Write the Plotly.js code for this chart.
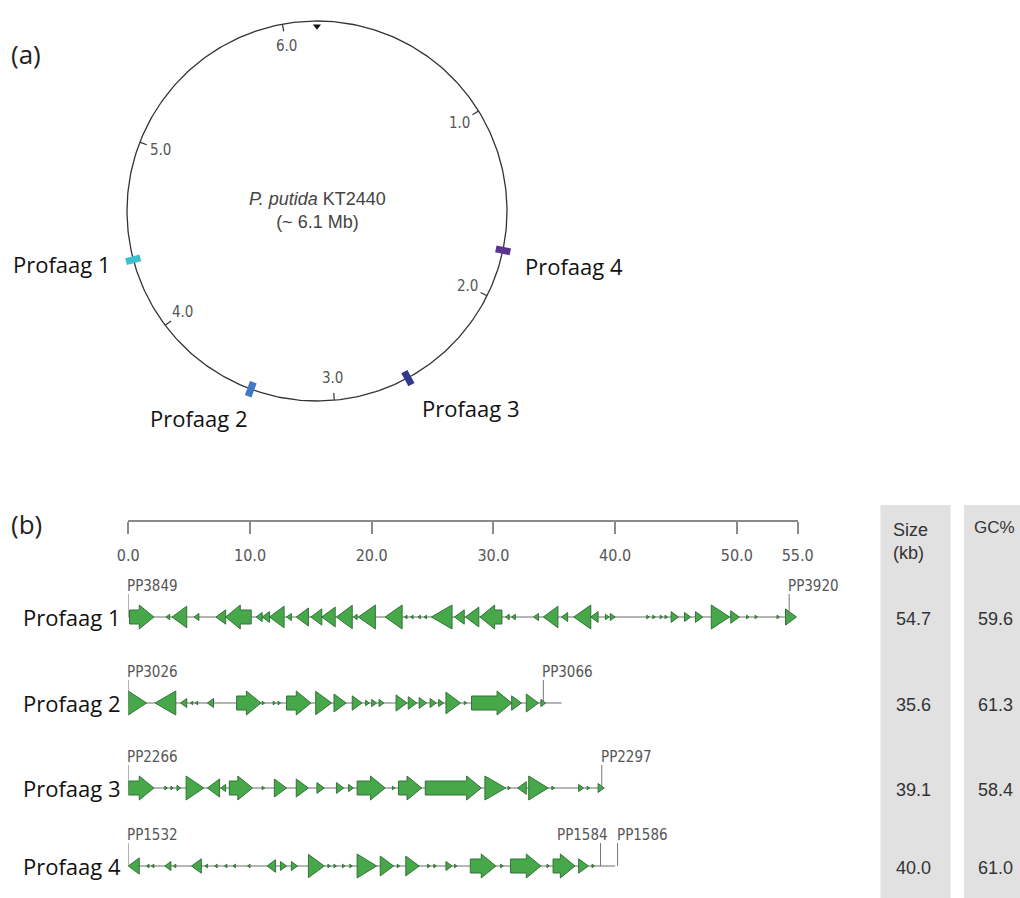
<!DOCTYPE html>
<html>
<head>
<meta charset="utf-8">
<script src="https://cdn.plot.ly/plotly-3.0.1.min.js"></script>
<style>html,body{margin:0;padding:0;background:#fff;}#chart{width:1020px;height:898px;}</style>
</head>
<body>
<div id="chart"></div>
<script>
// ---------------- DATA ----------------
const GENOME_MB = 6.18;
const GENOME_TICKS_MB = [1, 2, 3, 4, 5, 6];
const PROPHAGE_NAMES = ['Profaag 1', 'Profaag 2', 'Profaag 3', 'Profaag 4'];
const PROPHAGE_POS_MB = [4.38, 3.44, 2.60, 1.75];
const PROPHAGE_SIZE_KB = [54.7, 35.6, 39.1, 40.0];
const PROPHAGE_GC = [59.6, 61.3, 58.4, 61.0];
const SCALE_TICKS_KB = [0, 10, 20, 30, 40, 50, 55];

// genes: [start kb, end kb, strand]
const GENES_P1 = [
  [0.1,2.1,1],[3.1,3.4,-1],[3.6,4.8,-1],[5.4,5.8,-1],[7.2,8.0,-1],[8.0,10.1,-1],
  [10.5,11.0,-1],[11.0,11.6,-1],[11.6,12.8,-1],[13.0,13.4,-1],[13.8,14.8,-1],
  [15.0,15.9,-1],[15.9,17.0,-1],[17.1,18.4,-1],[18.5,18.8,-1],[18.9,20.3,-1],
  [21.1,22.5,-1],[22.7,22.9,-1],[23.2,23.4,-1],[23.8,24.0,-1],[24.3,24.5,-1],
  [24.9,26.6,-1],[26.8,27.6,-1],[27.7,28.8,-1],[28.9,30.7,-1],[31.0,31.3,-1],
  [31.5,31.8,-1],[33.3,33.7,-1],[34.1,35.3,-1],[35.6,36.1,-1],[36.6,38.0,-1],
  [38.0,38.6,-1],[39.2,39.5,1],[39.6,40.0,1],[42.6,42.8,1],[43.1,43.3,1],
  [43.7,43.9,1],[44.1,44.3,1],[44.6,45.2,1],[45.7,46.2,1],[46.6,47.2,1],
  [47.9,49.4,1],[49.5,50.2,1],[50.8,51.0,1],[51.5,51.7,1],[53.3,53.5,1],[54.0,54.9,1]
];
const GENES_P2 = [
  [0.0,1.5,1],[2.2,3.9,-1],[4.3,4.8,-1],[5.1,5.3,-1],[5.5,5.7,-1],[6.5,7.0,-1],
  [8.9,10.9,1],[11.0,11.2,1],[11.9,12.1,1],[12.3,12.5,1],[13.0,15.0,1],[15.4,16.7,1],
  [16.9,17.9,1],[18.4,19.2,1],[19.5,19.8,1],[20.0,20.4,1],[20.6,21.0,1],[22.0,22.9,1],
  [23.0,23.7,1],[23.9,24.5,1],[24.8,25.3,1],[25.5,25.9,1],[26.1,27.3,1],[27.6,27.8,1],
  [28.2,31.5,1],[31.5,32.3,1],[32.7,33.7,1],[33.9,34.3,1]
];
const GENES_P3 = [
  [0.0,2.1,1],[3.0,3.2,1],[3.5,3.7,1],[4.0,4.3,1],[4.75,6.2,1],[6.5,7.5,-1],
  [7.6,8.0,-1],[8.3,10.2,1],[11.0,11.2,1],[12.0,13.0,1],[13.8,14.8,1],[15.5,16.1,1],
  [17.1,17.7,1],[18.1,18.5,1],[18.8,21.1,1],[21.7,21.9,1],[22.2,24.1,1],[24.4,29.0,1],
  [29.3,31.0,1],[31.2,31.4,1],[32.0,32.7,-1],[32.9,34.5,1],[34.8,35.0,1],[37.0,37.4,1],
  [37.7,37.9,1],[38.6,39.1,1]
];
const GENES_P4 = [
  [0.0,0.9,-1],[1.5,1.7,-1],[1.9,2.1,-1],[3.0,3.5,-1],[3.7,3.9,-1],[5.2,6.0,-1],
  [6.3,6.5,-1],[7.1,7.3,-1],[7.9,8.1,-1],[8.6,8.8,-1],[9.8,10.0,-1],[11.4,12.1,-1],
  [12.5,13.0,1],[13.4,13.9,1],[14.8,16.1,1],[16.4,16.6,1],[16.9,17.1,1],[17.6,17.8,1],
  [18.2,18.4,1],[18.8,20.4,1],[20.7,21.8,1],[22.1,22.3,1],[22.8,23.9,1],[24.6,24.8,1],
  [25.1,25.3,1],[26.1,26.6,1],[26.8,27.0,1],[28.1,30.2,1],[30.6,30.8,1],[31.4,33.9,1],
  [34.4,34.6,1],[34.9,36.7,1],[37.0,37.8,1],[38.1,38.3,1]
];
const GENE_SETS = [GENES_P1, GENES_P2, GENES_P3, GENES_P4];

// locus tags: [tag, position kb]
const TAGS_P1 = [['PP3849', 0.0], ['PP3920', 54.3]];
const TAGS_P2 = [['PP3026', 0.0], ['PP3066', 34.1]];
const TAGS_P3 = [['PP2266', 0.0], ['PP2297', 38.9]];
const TAGS_P4 = [['PP1532', 0.0], ['PP1584', 38.8], ['PP1586', 40.2]];
const TAG_SETS = [TAGS_P1, TAGS_P2, TAGS_P3, TAGS_P4];

// ---------------- LAYOUT / STYLE ----------------
const W = 1020, H = 898;
const ROW_Y = [617, 703, 788, 866];          // px rows of tracks
const RIGHT_ALIGNED_TAGS = ['PP1584'];
const PROPHAGE_COLORS = ['#3cc0d0', '#3f78c4', '#34388c', '#5b3390'];
const GENE_FILL = '#47a84a', GENE_LINE = '#33733a';
const HEAD_HALF = 12, BODY_HALF = 7, TRI_SLOPE = 9, TRI_MAX_KB = 1.75, HEAD_KB = 1.2;
const NARROW = 'Liberation Sans Narrow, Arial Narrow, DejaVu Sans Condensed, sans-serif';
const SANS = 'Liberation Sans, Arial, sans-serif';
const LABEL = 'Open Sans, Noto Sans, sans-serif';

// circle geometry (px)
const CX = 317, CY = 211, R = 190, RANGE = 1.1;

const px2x = p => p / W;
const py2y = p => 1 - p / H;

const traces = [];
const annotations = [];
const shapes = [];

// ---------- panel (a): circular genome ----------
const circX = [], circY = [];
for (let i = 0; i <= 360; i++) {
  const t = i * Math.PI / 180;
  circX.push(Math.sin(t)); circY.push(Math.cos(t));
}
traces.push({type:'scatter', mode:'lines', x:circX, y:circY, xaxis:'x2', yaxis:'y2',
  line:{color:'#333', width:1.3}, hoverinfo:'skip'});

const ang = mb => mb / GENOME_MB * 2 * Math.PI;
const tx = [], ty = [];
GENOME_TICKS_MB.forEach(mb => {
  const a = ang(mb);
  tx.push(Math.sin(a), Math.sin(a) * 0.962, null);
  ty.push(Math.cos(a), Math.cos(a) * 0.962, null);
  annotations.push({xref:'x2', yref:'y2', x:Math.sin(a)*0.885, y:Math.cos(a)*0.885,
    text:mb.toFixed(1), showarrow:false, font:{family:NARROW, size:15, color:'#555'}});
});
traces.push({type:'scatter', mode:'lines', x:tx, y:ty, xaxis:'x2', yaxis:'y2',
  line:{color:'#333', width:1.2}, hoverinfo:'skip'});
// origin marker
traces.push({type:'scatter', mode:'markers', x:[0], y:[0.972], xaxis:'x2', yaxis:'y2',
  marker:{symbol:'triangle-down', size:7, color:'#111'}, hoverinfo:'skip'});

PROPHAGE_POS_MB.forEach((mb, i) => {
  const a = ang(mb);
  traces.push({type:'scatter', mode:'lines', xaxis:'x2', yaxis:'y2',
    x:[Math.sin(a)*0.962, Math.sin(a)*1.04], y:[Math.cos(a)*0.962, Math.cos(a)*1.04],
    line:{color:PROPHAGE_COLORS[i], width:7}, hoverinfo:'skip'});
});

annotations.push({xref:'x2', yref:'y2', x:0, y:0.005, showarrow:false, align:'center',
  text:'<i>P. putida</i> KT2440<br>(~ 6.1 Mb)', font:{family:SANS, size:18, color:'#444'}});

// prophage labels around circle (px centers)
const CIRC_LABEL_PX = [[61.5, 264], [199, 418], [471, 408], [574, 266]];
PROPHAGE_NAMES.forEach((n, i) => {
  annotations.push({xref:'paper', yref:'paper', x:px2x(CIRC_LABEL_PX[i][0]), y:py2y(CIRC_LABEL_PX[i][1]),
    text:n, showarrow:false, xanchor:'center', yanchor:'middle', font:{family:LABEL, size:22, color:'#111'}});
});
annotations.push({xref:'paper', yref:'paper', x:px2x(9), y:py2y(54), text:'(a)', showarrow:false,
  xanchor:'left', yanchor:'middle', font:{family:LABEL, size:26, color:'#222'}});
annotations.push({xref:'paper', yref:'paper', x:px2x(9), y:py2y(524), text:'(b)', showarrow:false,
  xanchor:'left', yanchor:'middle', font:{family:LABEL, size:26, color:'#222'}});

// ---------- panel (b): gene maps ----------
function genePoly(s, e, strand, yc) {
  const len = e - s;
  let p;
  if (len <= TRI_MAX_KB) {
    const hh = Math.min(HEAD_HALF, TRI_SLOPE * len);
    p = strand > 0 ? [[s, yc-hh],[e, yc],[s, yc+hh]] : [[e, yc-hh],[s, yc],[e, yc+hh]];
  } else if (strand > 0) {
    const b = e - HEAD_KB;
    p = [[s,yc-BODY_HALF],[b,yc-BODY_HALF],[b,yc-HEAD_HALF],[e,yc],[b,yc+HEAD_HALF],[b,yc+BODY_HALF],[s,yc+BODY_HALF]];
  } else {
    const b = s + HEAD_KB;
    p = [[e,yc-BODY_HALF],[b,yc-BODY_HALF],[b,yc-HEAD_HALF],[s,yc],[b,yc+HEAD_HALF],[b,yc+BODY_HALF],[e,yc+BODY_HALF]];
  }
  p.push(p[0]);
  return p;
}

GENE_SETS.forEach((genes, r) => {
  const yc = ROW_Y[r];
  // backbone
  traces.push({type:'scatter', mode:'lines', x:[0, PROPHAGE_SIZE_KB[r]], y:[yc, yc],
    line:{color:'#6e6e6e', width:1.2}, hoverinfo:'skip'});
  const gx = [], gy = [];
  genes.forEach(g => {
    genePoly(g[0], g[1], g[2], yc).forEach(pt => { gx.push(pt[0]); gy.push(pt[1]); });
    gx.push(null); gy.push(null);
  });
  traces.push({type:'scatter', mode:'lines', x:gx, y:gy, fill:'toself', fillcolor:GENE_FILL,
    line:{color:GENE_LINE, width:1}, hoverinfo:'skip', connectgaps:false});
  // locus tags
  const lx = [], ly = [];
  TAG_SETS[r].forEach(t => {
    lx.push(t[1], t[1], null); ly.push(yc, yc - 23, null);
    const right = RIGHT_ALIGNED_TAGS.includes(t[0]);
    annotations.push({xref:'x', yref:'y', x:t[1], y:yc - 31, text:t[0], showarrow:false,
      xanchor: right ? 'right' : 'left', xshift: right ? 9 : -3, yanchor:'middle',
      font:{family:NARROW, size:15, color:'#555'}});
  });
  traces.push({type:'scatter', mode:'lines', x:lx, y:ly, line:{color:'#777', width:1}, hoverinfo:'skip'});
  // row label
  annotations.push({xref:'paper', yref:'y', x:px2x(123), y:yc, text:PROPHAGE_NAMES[r], showarrow:false,
    xanchor:'right', yanchor:'middle', font:{family:LABEL, size:22, color:'#111'}});
  // table values
  annotations.push({xref:'paper', yref:'y', x:px2x(913), y:yc + 2, text:PROPHAGE_SIZE_KB[r].toFixed(1),
    showarrow:false, xanchor:'center', yanchor:'middle', font:{family:SANS, size:18, color:'#333'}});
  annotations.push({xref:'paper', yref:'y', x:px2x(995), y:yc + 2, text:PROPHAGE_GC[r].toFixed(1),
    showarrow:false, xanchor:'center', yanchor:'middle', font:{family:SANS, size:18, color:'#333'}});
});

// table background + headers
shapes.push({type:'rect', xref:'paper', yref:'paper', x0:px2x(880.5), x1:px2x(950.5), y0:py2y(898), y1:py2y(505),
  fillcolor:'#e1e1e1', line:{width:0}, layer:'below'});
shapes.push({type:'rect', xref:'paper', yref:'paper', x0:px2x(964), x1:px2x(1025), y0:py2y(898), y1:py2y(505),
  fillcolor:'#e1e1e1', line:{width:0}, layer:'below'});
annotations.push({xref:'paper', yref:'paper', x:px2x(891), y:py2y(541), text:'Size<br>(kb)', showarrow:false,
  xanchor:'left', yanchor:'middle', align:'left', font:{family:SANS, size:18, color:'#333'}});
annotations.push({xref:'paper', yref:'paper', x:px2x(972), y:py2y(527), text:'GC%', showarrow:false,
  xanchor:'left', yanchor:'middle', font:{family:SANS, size:17, color:'#333'}});

const layout = {
  width: W, height: H,
  margin: {l:0, r:0, t:0, b:0, pad:0},
  paper_bgcolor: '#fff', plot_bgcolor: 'rgba(0,0,0,0)',
  showlegend: false,
  xaxis: {domain:[128.3/W, 797.7/W], range:[0, 55], anchor:'free', position:1 - 520.7/H,
    showline:true, linecolor:'#8a8a8a', linewidth:2, ticks:'outside', ticklen:12, tickwidth:2,
    tickcolor:'#8a8a8a', tickmode:'array', tickvals:SCALE_TICKS_KB,
    ticktext:SCALE_TICKS_KB.map(v => v.toFixed(1)), ticklabelstandoff:8,
    tickfont:{family:NARROW, size:16, color:'#555'}, showgrid:false, zeroline:false, fixedrange:true},
  yaxis: {domain:[0, 1 - 476/H], range:[898, 476], visible:false, fixedrange:true, anchor:'x'},
  xaxis2: {domain:[(CX - R*RANGE)/W, (CX + R*RANGE)/W], range:[-RANGE, RANGE], visible:false, anchor:'y2', fixedrange:true},
  yaxis2: {domain:[1 - (CY + R*RANGE)/H, 1 - (CY - R*RANGE)/H], range:[-RANGE, RANGE], visible:false, anchor:'x2', fixedrange:true},
  annotations: annotations,
  shapes: shapes
};

Plotly.newPlot('chart', traces, layout, {staticPlot:true, displayModeBar:false});
</script>
</body>
</html>
